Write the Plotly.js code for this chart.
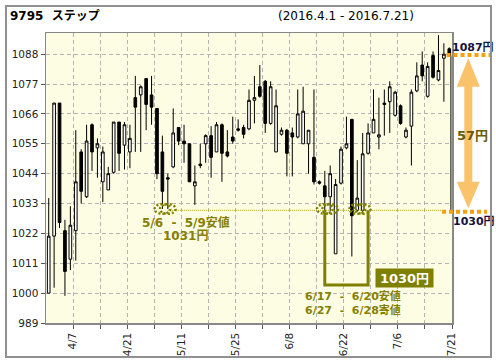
<!DOCTYPE html>
<html><head><meta charset="utf-8">
<script src="https://cdn.plot.ly/plotly-3.0.1.min.js"></script>
<style>
html,body{margin:0;padding:0;background:#fff;}
#chart{width:496px;height:364px;position:absolute;left:0;top:0;}
#frame{position:absolute;left:5px;top:5px;width:487px;height:353px;box-sizing:border-box;border:2px solid #909090;pointer-events:none;}
</style></head><body>
<div id="chart"></div><div id="frame"></div>
<script>
// ---- data ----
const dates = ['4/1','4/4','4/5','4/6','4/7','4/8','4/11','4/12','4/13','4/14','4/15','4/18','4/19','4/20','4/21','4/22','4/25','4/26','4/27','4/28',
  '5/2','5/6','5/9','5/10','5/11','5/12','5/13','5/16','5/17','5/18','5/19','5/20','5/23','5/24','5/25','5/26','5/27','5/30','5/31',
  '6/1','6/2','6/3','6/6','6/7','6/8','6/9','6/10','6/13','6/14','6/15','6/16','6/17','6/20','6/21','6/22','6/23','6/24','6/27','6/28','6/29','6/30',
  '7/1','7/4','7/5','7/6','7/7','7/8','7/11','7/12','7/13','7/14','7/15','7/19','7/20','7/21'];
const open  = [1000,1021,1070,1023,1012.5,1023,1052,1035.5,1062,1053.5,1041,1038,1044.5,1063,1054.5,1052,1072,1073,1079,1073,
  1068,1052,1042.5,1046.5,1061,1056,1055,1039.5,1047.5,1055,1058,1052,1062,1052,1057.5,1060.5,1061,1060.5,1071,
  1076,1078,1062.5,1052,1058.5,1060,1059,1057.5,1055,1055,1050,1041,1039.5,1035.5,1014.5,1040.5,1053.5,1064,1030.5,1030.5,1051.5,1059,
  1057.5,1070,1070.5,1065.5,1069,1057.5,1061.5,1074.5,1084,1072.5,1087.5,1078.5,1086.5,1090];
const high  = [1035,1070,1070,1027,1032,1060,1053,1062,1062.5,1057,1054,1046.5,1063,1063,1063,1062,1080,1076.5,1079,1080,
  1068,1058,1044,1068,1061,1062,1055,1047,1055,1058.5,1061.5,1063,1062.5,1060,1065,1064,1062,1075,1080,
  1084,1078.5,1078,1075,1061,1060.5,1061,1075,1076,1060,1075,1041.5,1045,1047,1042,1054,1065,1064,1049,1059,1062.5,1075,
  1072,1075,1078,1074.5,1069.5,1061,1075,1085,1089,1085,1089,1095,1092,1090.5];
const low   = [1000,1002,1024,999,1008.5,1012,1033,1035,1045,1042.5,1033.5,1038,1044,1045,1045.5,1046,1052,1052,1060,1062,
  1042,1031,1031,1046,1054.5,1048,1041,1032.5,1046,1048,1042.5,1052,1041,1050,1055,1059.5,1057,1060,1062.5,
  1072,1059,1062,1052,1058,1043,1043,1057,1055,1044,1040,1040,1030,1030,1014.5,1040,1053,1013.5,1030,1029,1051,1059,
  1053,1058,1059,1065,1062,1057,1047,1074,1078,1072,1079,1078,1070.5,1087];
const close = [1021,1070,1026,1008,1025,1041,1037.5,1056,1052,1055,1052,1044,1063,1051.5,1062,1057,1068.5,1076,1069.5,1068.5,
  1044,1037.5,1042,1059,1056,1055,1041,1041,1047,1058,1050,1062,1051.5,1050.5,1056,1060,1058.5,1071,1072,
  1072.5,1062.5,1076,1069,1060,1051.5,1057.5,1066,1067,1060,1041,1040.5,1035.5,1044,1040,1053,1055,1028.5,1035,1051.3,1059,1064,
  1058.3,1069.5,1076,1074,1062.5,1060,1074,1080,1080,1083.5,1079.5,1082,1088,1087.5];
const yTicks = [989,1000,1011,1022,1033,1044,1055,1066,1077,1088];
const keyLow = 1030, mayLow = 1031, lastPrice = 1087, rise = 57;

// ---- geometry helpers (layout only) ----
const W = 496, H = 364, ML = 46, MR = 44, MT = 33, MB = 41;
const PW = W - ML - MR, PH = H - MT - MB;
const px = x => (x - ML) / PW;          // pixel -> paper x
const py = y => (H - MB - y) / PH;      // pixel -> paper y
const yv = y => 989 + (H - MB - y) * (1095.8 - 989) / PH;  // pixel -> value (for labels)

const xs = dates.map((d, i) => i);
const tickvals = [], ticktext = [];
for (let i = 4; i < dates.length; i += 5) {
  tickvals.push(i + 0.5);
  ticktext.push((i - 4) % 10 === 0 ? dates[i] : '');
}
const idx = d => dates.indexOf(d);

const F = 'DejaVu Sans, Noto Sans CJK JP, sans-serif';
const olive = '#808000', oliveTxt = '#868000', orange = '#f5a010';

const trace = {
  type: 'candlestick', x: xs, open: open, high: high, low: low, close: close,
  increasing: {line: {color: '#000', width: 1}, fillcolor: '#ffffff'},
  decreasing: {line: {color: '#000', width: 1}, fillcolor: '#000000'},
  whiskerwidth: 0, hoverinfo: 'skip', showlegend: false
};

const shapes = [];
// dotted level line
shapes.push({type: 'line', xref: 'x', yref: 'y', x0: idx('5/9'), x1: 72.7, y0: keyLow + 0.5, y1: keyLow + 0.5,
  line: {color: '#b39b00', width: 1, dash: '1px,1px'}});
// dotted ellipses around the lows
['5/6', '5/9'].forEach(d => shapes.push({type: 'circle', xref: 'x', yref: 'y',
  x0: idx(d) - 1.45, x1: idx(d) + 1.45, y0: mayLow - 1.8, y1: mayLow + 1.8,
  line: {color: olive, width: 2.5, dash: '2px,2px'}}));
['6/17', '6/20', '6/27', '6/28'].forEach(d => shapes.push({type: 'circle', xref: 'x', yref: 'y',
  x0: idx(d) - 1.45, x1: idx(d) + 1.45, y0: keyLow - 0.8, y1: keyLow + 2.8,
  line: {color: olive, width: 2.5, dash: '2px,2px'}}));
// U-shaped box
shapes.push({type: 'path', xref: 'x', yref: 'y',
  path: `M ${idx('6/17')},${keyLow + 0.5} L ${idx('6/17')},1003 L ${idx('6/29')},1003 L ${idx('6/29')},${keyLow + 0.5}`,
  line: {color: olive, width: 3}});
// vertical thin line at the end
shapes.push({type: 'line', xref: 'x', yref: 'y', x0: 74.3, x1: 74.3, y0: keyLow + 0.5, y1: lastPrice + 0.5,
  line: {color: '#000', width: 1}});
// orange dotted lines
shapes.push({type: 'line', xref: 'paper', yref: 'y', x0: px(446.5), x1: px(490), y0: lastPrice + 0.7, y1: lastPrice + 0.7,
  line: {color: orange, width: 4, dash: '4px,3px'}});
shapes.push({type: 'line', xref: 'paper', yref: 'y', x0: px(442), x1: px(487), y0: keyLow, y1: keyLow,
  line: {color: orange, width: 4, dash: '4px,3px'}});
// double arrow
(function () {
  const cx = px(468.3), sw = 4 / PW, hw = 11.5 / PW;
  const tTip = lastPrice - 0.5, tBase = 1076, bBase = 1041, bTip = keyLow + 1.3;
  const p = `M ${cx},${tTip} L ${cx + hw},${tBase} L ${cx + sw},${tBase} L ${cx + sw},${bBase} L ${cx + hw},${bBase} L ${cx},${bTip} ` +
            `L ${cx - hw},${bBase} L ${cx - sw},${bBase} L ${cx - sw},${tBase} L ${cx - hw},${tBase} Z`;
  shapes.push({type: 'path', xref: 'paper', yref: 'y', path: p, fillcolor: 'rgba(247,170,50,0.72)',
    line: {color: 'rgba(0,0,0,0)', width: 0}});
})();

const annotations = [
  {xref: 'paper', yref: 'paper', x: px(8), y: py(16.5), xanchor: 'left', yanchor: 'middle', showarrow: false,
   text: '<b>9795\u00a0\u00a0ステップ</b>', font: {family: F, size: 12, color: '#000'}},
  {xref: 'paper', yref: 'paper', x: px(346), y: py(16.5), xanchor: 'center', yanchor: 'middle', showarrow: false,
   text: '(2016.4.1 - 2016.7.21)', font: {family: F, size: 12, color: '#000'}},
  {xref: 'x', yref: 'y', x: 25.3, y: yv(222.5), showarrow: false, xanchor: 'center', yanchor: 'middle',
   text: '<b>5/6\u00a0 -\u00a0 5/9安値</b>', font: {family: F, size: 12, color: oliveTxt}},
  {xref: 'x', yref: 'y', x: 25.2, y: yv(236), showarrow: false, xanchor: 'center', yanchor: 'middle',
   text: '<b>' + mayLow + '円</b>', font: {family: F, size: 12, color: oliveTxt}},
  {xref: 'x', yref: 'y', x: 56.2, y: yv(296), showarrow: false, xanchor: 'center', yanchor: 'middle',
   text: '<b>6/17\u00a0 -\u00a0 6/20安値</b>', font: {family: F, size: 11, color: oliveTxt}},
  {xref: 'x', yref: 'y', x: 56.2, y: yv(310), showarrow: false, xanchor: 'center', yanchor: 'middle',
   text: '<b>6/27\u00a0 -\u00a0 6/28寄値</b>', font: {family: F, size: 11, color: oliveTxt}},
  {xref: 'x', yref: 'y', x: 65.7, y: yv(278), showarrow: false, xanchor: 'center', yanchor: 'middle',
   text: '<b>' + keyLow + '円</b>', bgcolor: olive, width: 55, height: 16, borderpad: 1,
   font: {family: F, size: 13, color: '#ffffff'}},
  {xref: 'paper', yref: 'y', x: px(472.5), y: yv(47), showarrow: false, xanchor: 'center', yanchor: 'middle',
   text: '<b>' + lastPrice + '円</b>', font: {family: F, size: 11, color: '#14143a'}},
  {xref: 'paper', yref: 'y', x: px(474), y: yv(221.5), showarrow: false, xanchor: 'center', yanchor: 'middle',
   text: '<b>' + keyLow + '円</b>', font: {family: F, size: 11, color: '#14143a'}},
  {xref: 'paper', yref: 'y', x: px(472), y: yv(135), showarrow: false, xanchor: 'center', yanchor: 'middle',
   text: '<b>' + rise + '円</b>', font: {family: F, size: 13, color: '#6b5a00'}}
];

const layout = {
  width: W, height: H, margin: {l: ML, r: MR, t: MT, b: MB, pad: 0},
  paper_bgcolor: '#ffffff', plot_bgcolor: '#fdfde4', showlegend: false,
  font: {family: F, size: 10.5, color: '#222'},
  xaxis: {type: 'linear', range: [-0.5, 74.5], rangeslider: {visible: false},
    tickmode: 'array', tickvals: tickvals, ticktext: ticktext, tickangle: -90,
    ticks: 'outside', ticklen: 4, tickcolor: '#555', tickwidth: 1,
    showgrid: true, gridcolor: '#b4b4b4', griddash: '4px,3px', gridwidth: 1,
    showline: true, linecolor: '#888', linewidth: 1.5, mirror: true, zeroline: false,
    tickfont: {family: F, size: 10.5, color: '#222'}, fixedrange: true},
  yaxis: {range: [989, 1095.8], tickmode: 'array', tickvals: yTicks, ticktext: yTicks.map(String),
    ticks: 'outside', ticklen: 4, tickcolor: '#555', tickwidth: 1,
    showgrid: true, gridcolor: '#b4b4b4', griddash: '4px,3px', gridwidth: 1,
    showline: true, linecolor: '#888', linewidth: 1.5, mirror: true, zeroline: false,
    tickfont: {family: F, size: 10.5, color: '#222'}, fixedrange: true},
  shapes: shapes, annotations: annotations
};

Plotly.newPlot('chart', [trace], layout, {staticPlot: true, displayModeBar: false});
</script>
</body></html>
